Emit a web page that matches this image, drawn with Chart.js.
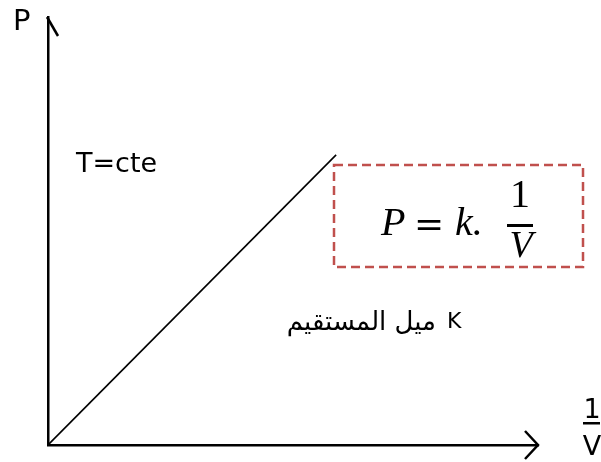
<!DOCTYPE html>
<html>
<head>
<meta charset="utf-8">
<script src="https://cdn.jsdelivr.net/npm/chart.js@4"></script>
<style>
html,body{margin:0;padding:0;background:#fff;}
#wrap{width:601px;height:462px;position:relative;}
</style>
</head>
<body>
<div id="wrap"><canvas id="c" width="601" height="462"></canvas></div>
<script>
// Data (abstract units: x = 1/V, y = P)
const lineX = [0, 5.88];
const lineY = [0, 6.78];
const xRange = [0, 10];
const yRange = [0, 10];
const axisLabelY = "P";
const axisLabelXNum = "1";
const axisLabelXDen = "V";
const noteText = "T=cte";
const slopeText = "ميل المستقيم";
const slopeSym = "K";

const annot = {
  id: 'annot',
  afterDraw(chart) {
    const ctx = chart.ctx;
    const xs = chart.scales.x, ys = chart.scales.y;
    const x0 = xs.getPixelForValue(xRange[0]);
    const y0 = ys.getPixelForValue(yRange[0]);
    const xt = xs.getPixelForValue(xRange[1]);
    const yt = ys.getPixelForValue(yRange[1]);
    ctx.save();
    ctx.strokeStyle = '#000';
    ctx.lineWidth = 2.5;
    ctx.lineCap = 'butt';
    // x arrow head
    ctx.beginPath();
    ctx.moveTo(xt - 13, y0 - 14);
    ctx.lineTo(xt, y0);
    ctx.lineTo(xt - 13, y0 + 14);
    ctx.stroke();
    // y arrow head (right barb)
    ctx.beginPath();
    ctx.moveTo(x0 - 1, yt);
    ctx.lineTo(x0 + 10, yt + 19);
    ctx.stroke();

    // labels
    ctx.fillStyle = '#000';
    ctx.textBaseline = 'alphabetic';
    ctx.font = '29px "DejaVu Sans"';
    ctx.textAlign = 'left';
    ctx.fillText(axisLabelY, 13, 30);
    ctx.font = '27px "DejaVu Sans"';
    ctx.fillText(noteText, 76, 172);
    // 1/V
    ctx.textAlign = 'center';
    ctx.font = '27px "DejaVu Sans"';
    ctx.fillText(axisLabelXNum, 592, 418);
    ctx.fillText(axisLabelXDen, 592, 455);
    ctx.fillRect(583, 422, 17, 2.5);

    // Arabic
    ctx.font = '26px "DejaVu Sans"';
    ctx.textAlign = 'right';
    ctx.direction = 'rtl';
    ctx.fillText(slopeText, 436, 330);
    ctx.direction = 'ltr';
    ctx.textAlign = 'left';
    ctx.font = '22px "DejaVu Sans"';
    ctx.fillText(slopeSym, 447, 328);

    // dashed box
    ctx.strokeStyle = '#C0504D';
    ctx.lineWidth = 2.5;
    ctx.setLineDash([9, 5]);
    ctx.strokeRect(334, 165, 249, 102);
    ctx.setLineDash([]);

    // formula
    ctx.fillStyle = '#000';
    ctx.textAlign = 'left';
    ctx.font = 'italic 40px "Liberation Serif"';
    ctx.fillText('P', 381, 235);
    ctx.font = '36px "DejaVu Serif"';
    ctx.fillText('=', 414, 236);
    ctx.font = 'italic 40px "Liberation Serif"';
    ctx.fillText('k.', 455, 235);
    ctx.textAlign = 'center';
    ctx.font = '40px "Liberation Serif"';
    ctx.fillText('1', 520, 207);
    ctx.font = 'italic 38px "Liberation Serif"';
    ctx.fillText('V', 521, 257);
    ctx.fillRect(507, 224, 26, 3);
    ctx.restore();
  }
};

new Chart(document.getElementById('c'), {
  type: 'scatter',
  data: {
    datasets: [{
      data: lineX.map((x, i) => ({x: x, y: lineY[i]})),
      showLine: true,
      borderColor: '#000',
      borderWidth: 1.6,
      pointRadius: 0,
      fill: false
    }]
  },
  options: {
    responsive: false,
    animation: false,
    devicePixelRatio: 1,
    layout: {padding: {left: 40, right: 63, top: 17, bottom: 9}},
    plugins: {legend: {display: false}, tooltip: {enabled: false}},
    scales: {
      x: {
        type: 'linear', min: xRange[0], max: xRange[1],
        grid: {display: false},
        ticks: {display: false},
        border: {display: true, color: '#000', width: 2.5}
      },
      y: {
        type: 'linear', min: yRange[0], max: yRange[1],
        grid: {display: false},
        ticks: {display: false},
        border: {display: true, color: '#000', width: 2.5}
      }
    }
  },
  plugins: [annot]
});
</script>
</body>
</html>
